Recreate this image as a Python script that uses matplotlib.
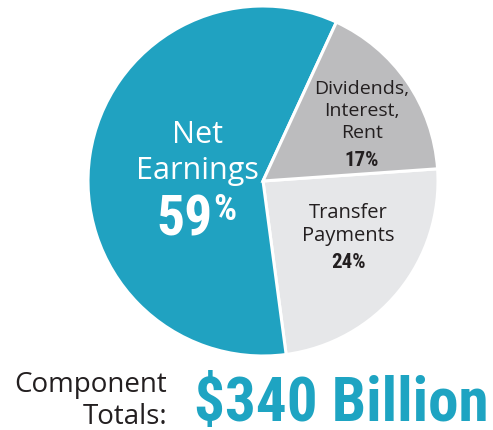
import matplotlib
matplotlib.use("Agg")
import matplotlib.pyplot as plt

categories = ["Transfer\nPayments", "Net\nEarnings", "Dividends,\nInterest,\nRent"]
values = [24, 59, 17]
pct_labels = ["24%", "59%", "17%"]
total_label = "$340 Billion"
colors = ["#e6e7e9", "#20a2c1", "#bcbcbe"]

narrow = ["Roboto Condensed", "DejaVu Sans"]
reg = ["Open Sans", "DejaVu Sans"]
dark = "#231f20"

fig = plt.figure(figsize=(4.93, 4.31), dpi=100)
ax = fig.add_axes([0, 0, 1, 1])

cx, cy, r = 263, 431 - 182, 175
ax.pie(values, colors=colors, startangle=4, counterclock=False,
       center=(cx, cy), radius=r, frame=True,
       wedgeprops=dict(edgecolor="white", linewidth=2.2))
ax.set_xlim(0, 493)
ax.set_ylim(0, 431)
ax.set_aspect("equal")
ax.axis("off")

def Y(y):
    return 431 - y

cond = dict(family=narrow, weight="bold", fontstretch="condensed")

# Net earnings
ax.text(197, Y(153), categories[1], ha="center", va="center", color="white",
        family=reg, fontsize=22, linespacing=1.3)
ax.text(213, Y(221), pct_labels[1][:-1], ha="right", va="center", color="white",
        fontsize=40, **cond)
ax.text(213, Y(210), "%", ha="left", va="center", color="white",
        fontsize=26, **cond)

# Dividends
ax.text(362, Y(111), categories[2], ha="center", va="center", color=dark,
        family=reg, fontsize=14, linespacing=1.3)
ax.text(362, Y(160), pct_labels[2], ha="center", va="center", color=dark,
        fontsize=15, **cond)

# Transfer
ax.text(348, Y(224), categories[0], ha="center", va="center", color=dark,
        family=reg, fontsize=14.5, linespacing=1.2)
ax.text(348, Y(263), pct_labels[0], ha="center", va="center", color=dark,
        fontsize=15, **cond)

# Bottom
ax.text(167, Y(424), "Component\nTotals:", ha="right", va="baseline", color=dark,
        family=reg, fontsize=20, linespacing=1.2, multialignment="right")
ax.text(194, Y(421), total_label, ha="left", va="baseline", color="#1ea4c2",
        fontsize=44, **cond)

fig.savefig("out.png", dpi=100)
